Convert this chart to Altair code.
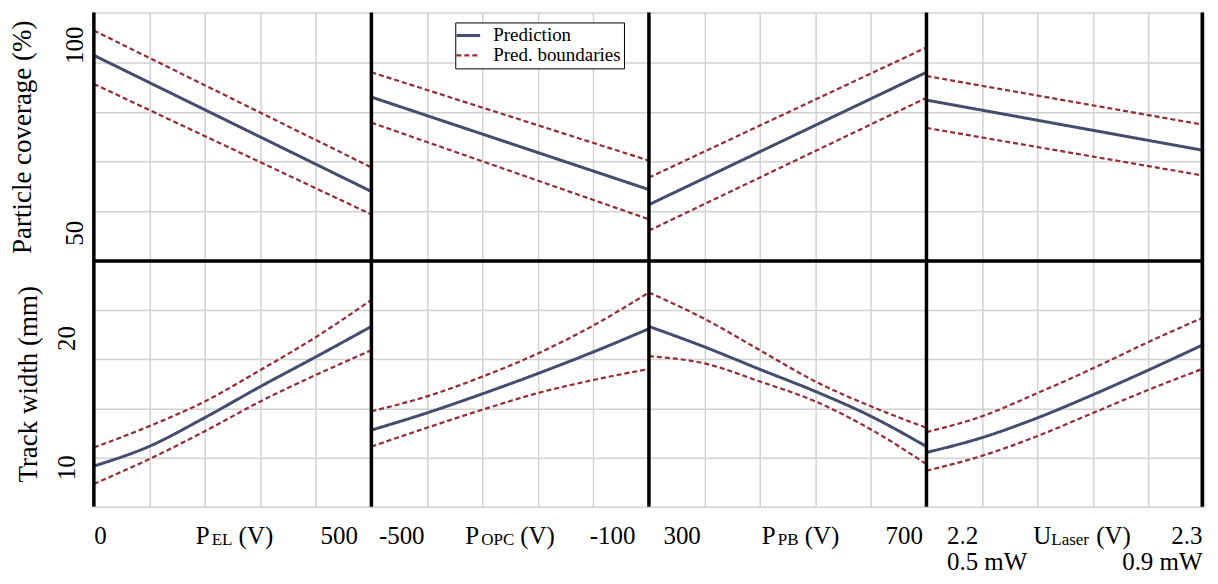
import json
import altair as alt
import pandas as pd

SERIF = "Liberation Serif"

# ---------------- data ----------------
series = ["Prediction", "Pred. boundaries"]
factor_main = ["P", "P", "P", "U"]
factor_sub = ["EL", "OPC", "PB", "Laser"]
factor_unit = ["(V)", "(V)", "(V)", "(V)"]
x_lo = [0, -500, 300, 2.2]
x_hi = [500, -100, 700, 2.3]
lo_labels = ["0", "-500", "300", "2.2"]
hi_labels = ["500", "-100", "700", "2.3"]
laser_power = ["0.5 mW", "0.9 mW"]

row_titles = ["Particle coverage (%)", "Track width (mm)"]
row_ticks = [[50, 100], [10, 20]]

# Particle coverage (%)
cov_x = [[0, 500], [-500, -100], [300, 700], [2.2, 2.3]]
cov_pred = [[97.3, 61.1], [86.2, 61.6], [57.6, 92.8], [85.4, 72.0]]
cov_upper = [[103.9, 67.5], [92.8, 69.3], [64.8, 99.4], [91.8, 78.8]]
cov_lower = [[89.7, 55.0], [79.4, 53.7], [50.7, 86.0], [78.0, 65.3]]

# Track width (mm)
tw_x = [
    [0, 100, 200, 300, 400, 500],
    [-500, -420, -340, -260, -180, -100],
    [300, 380, 460, 540, 620, 700],
    [2.2, 2.22, 2.24, 2.26, 2.28, 2.3],
]
tw_pred = [
    [10.14, 11.67, 13.89, 16.29, 18.59, 20.94],
    [12.92, 14.25, 15.73, 17.30, 18.97, 20.76],
    [20.94, 19.36, 17.62, 15.91, 13.99, 11.65],
    [11.19, 12.34, 13.87, 15.66, 17.57, 19.56],
]
tw_upper = [
    [11.57, 13.23, 15.14, 17.57, 20.12, 22.99],
    [14.38, 15.53, 17.06, 18.85, 21.02, 23.57],
    [23.57, 21.53, 19.10, 16.68, 14.76, 13.10],
    [12.77, 13.99, 15.79, 17.70, 19.74, 21.65],
]
tw_lower = [
    [8.76, 10.68, 12.84, 15.14, 17.19, 19.10],
    [11.65, 13.10, 14.50, 15.79, 16.80, 17.65],
    [18.64, 18.08, 16.68, 15.14, 12.97, 10.29],
    [9.78, 10.93, 12.46, 14.25, 16.04, 17.70],
]

# ---------------- style ----------------
Y_DOMAINS = [[42.6, 108.7], [7.0, 26.0]]
W = 278
HEIGHTS = [249, 246]
PRED_COLOR = "#474b6e"
BOUND_COLOR = "#952b37"
BORDER = 3.5
LABEL_PAD = 17

one = pd.DataFrame({"k": [0]})

legend = alt.Legend(
    title=None, orient="none", legendX=362, legendY=10,
    symbolType="M-1.4,0H1.4", symbolSize=289, symbolStrokeWidth=2,
    labelFont=SERIF, labelFontSize=19, labelColor="black",
    fillColor="white", strokeColor="black", padding=3, rowPadding=0,
    labelOffset=15,
)


def panel(row, col):
    if row == 0:
        xs, P, U, L = cov_x[col], cov_pred[col], cov_upper[col], cov_lower[col]
    else:
        xs, P, U, L = tw_x[col], tw_pred[col], tw_upper[col], tw_lower[col]
    recs = []
    for name, vals in (("pred", P), ("upper", U), ("lower", L)):
        for xv, yv in zip(xs, vals):
            recs.append({"x": xv, "y": yv, "line": name,
                         "series": series[0] if name == "pred" else series[1]})
    df = pd.DataFrame(recs)

    H = HEIGHTS[row]
    lo, hi = x_lo[col], x_hi[col]
    grid_x = [round(lo + k * (hi - lo) / 5, 6) for k in range(6)]
    yd = Y_DOMAINS[row]
    grid_y = [round(yd[0] + k * (yd[1] - yd[0]) / 5, 6) for k in range(6)]

    xscale = alt.Scale(domain=[lo, hi], nice=False, zero=False)
    yscale = alt.Scale(domain=yd, nice=False, zero=False)

    if row == 1:
        if col == 3:
            lo_lab = [lo_labels[col], laser_power[0]]
            hi_lab = [hi_labels[col], laser_power[1]]
        else:
            lo_lab, hi_lab = lo_labels[col], hi_labels[col]
        expr = (f"datum.value == {lo} ? {json.dumps(lo_lab)} : "
                f"datum.value == {hi} ? {json.dumps(hi_lab)} : ''")
        off_lo = [0, 7, 14, 20][col]
        off_hi = [-14, -14, -4, -2][col]
        xaxis = alt.Axis(
            values=grid_x, title=None, labelExpr=expr, labelFlush=True,
            labelOverlap=False, labelPadding=LABEL_PAD, labelBaseline="top",
            labelLineHeight=26,
            labelOffset={"condition": {"test": f"datum.value == {lo}", "value": off_lo},
                         "value": off_hi},
        )
    else:
        xaxis = alt.Axis(values=grid_x, title=None, labels=False)

    if col == 0:
        yaxis = alt.Axis(values=grid_y, labels=False, title=row_titles[row],
                         titlePadding=[57, 51][row])
    else:
        yaxis = alt.Axis(values=grid_y, labels=False, title=None)

    lines = alt.Chart(df).mark_line(interpolate="monotone").encode(
        x=alt.X("x:Q", scale=xscale, axis=xaxis),
        y=alt.Y("y:Q", scale=yscale, axis=yaxis),
        color=alt.Color("series:N", scale=alt.Scale(domain=series, range=[PRED_COLOR, BOUND_COLOR]),
                        legend=legend),
        strokeDash=alt.StrokeDash("series:N", scale=alt.Scale(domain=series, range=[[1, 0], [5, 3]]),
                                  legend=legend),
        strokeWidth=alt.StrokeWidth("series:N", scale=alt.Scale(domain=series, range=[3, 2.2]),
                                    legend=None),
        detail="line:N",
    )
    layers = [lines]

    half = BORDER / 2
    layers.append(alt.Chart(one).mark_rule(color="black", strokeWidth=BORDER).encode(
        x=alt.value(0), y=alt.value(0), y2=alt.value(H)))
    if col == 3:
        layers.append(alt.Chart(one).mark_rule(color="black", strokeWidth=BORDER).encode(
            x=alt.value(W - half), y=alt.value(0), y2=alt.value(H)))
    if row == 1:
        layers.append(alt.Chart(one).mark_rule(color="black", strokeWidth=BORDER).encode(
            x=alt.value(0), x2=alt.value(W), y=alt.value(0)))

    if col == 0:
        tdf = pd.DataFrame({"v": row_ticks[row], "label": [str(t) for t in row_ticks[row]]})
        layers.append(alt.Chart(tdf).mark_text(
            angle=270, align="center", baseline="middle", font=SERIF, fontSize=25, color="black"
        ).encode(
            x=alt.value([-19, -27][row]),
            y=alt.Y("v:Q", scale=yscale, axis=yaxis),
            text="label:N",
        ))

    if row == 1:
        base_y = H + LABEL_PAD + 20
        main_dx = [102, 94, 113, 107][col]
        sub_dx = [118, 110, 129, 125][col]
        unit_dx = [145, 149, 156, 170][col]
        layers.append(alt.Chart(one).mark_text(
            align="left", baseline="alphabetic", font=SERIF, fontSize=25, color="black"
        ).encode(x=alt.value(main_dx), y=alt.value(base_y), text=alt.value(factor_main[col])))
        layers.append(alt.Chart(one).mark_text(
            align="left", baseline="alphabetic", font=SERIF, fontSize=17, color="black"
        ).encode(x=alt.value(sub_dx), y=alt.value(base_y + 1), text=alt.value(factor_sub[col])))
        layers.append(alt.Chart(one).mark_text(
            align="left", baseline="alphabetic", font=SERIF, fontSize=25, color="black"
        ).encode(x=alt.value(unit_dx), y=alt.value(base_y), text=alt.value(factor_unit[col])))

    return alt.layer(*layers).properties(width=W, height=H)


panels = [panel(r, c) for r in range(2) for c in range(4)]

chart = (
    alt.concat(*panels, columns=4, spacing=0, bounds="flush")
    .resolve_scale(x="independent", y="independent")
    .properties(padding={"left": 0, "top": 2, "right": 0, "bottom": 0})
    .configure_view(stroke=None)
    .configure_axis(
        gridColor="#d2d2d2", gridWidth=1.5, domain=False, ticks=False,
        labelFont=SERIF, labelFontSize=25, labelColor="black",
        titleFont=SERIF, titleFontSize=27, titleFontWeight="normal", titleColor="black",
    )
)

chart.save("out.html", embed_options={"renderer": "svg", "actions": False})
